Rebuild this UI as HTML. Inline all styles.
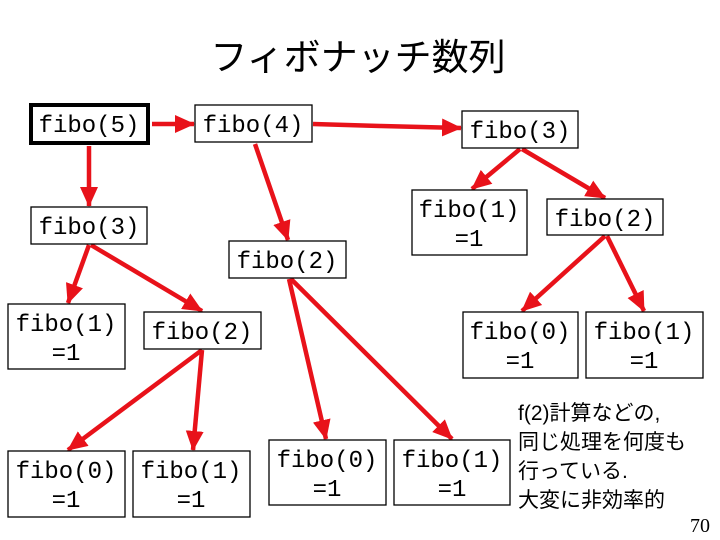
<!DOCTYPE html>
<html><head><meta charset="utf-8"><style>
html,body{margin:0;padding:0;background:#fff;}
svg{display:block;}
.b{fill:#fff;stroke:#000;stroke-width:1.3;}
.t{font-family:"Liberation Mono","Noto Sans CJK JP",monospace;font-size:24px;fill:#000;text-anchor:middle;}
.a{stroke:#e8121a;stroke-width:4.5;fill:none;marker-end:url(#ah);}
.n{font-family:"Liberation Sans","Noto Sans CJK JP",sans-serif;font-size:21px;fill:#000;}
</style></head><body>
<svg width="720" height="540" viewBox="0 0 720 540" xmlns="http://www.w3.org/2000/svg">
<defs><marker id="ah" markerUnits="userSpaceOnUse" markerWidth="22" markerHeight="22" refX="19" refY="10" orient="auto"><path d="M0,1 L20,10 L0,19 Z" fill="#e8121a"/></marker></defs>
<text x="358" y="70" font-family="'Liberation Sans','Noto Sans CJK JP',sans-serif" font-size="37" text-anchor="middle">フィボナッチ数列</text>

<line class="a" x1="152" y1="124" x2="194" y2="124"/>
<polyline class="a" points="313,124 380,126 461,128"/>
<line class="a" x1="89" y1="146" x2="89" y2="206"/>
<line class="a" x1="255" y1="144" x2="288" y2="240"/>
<line class="a" x1="89" y1="245" x2="68" y2="303"/>
<line class="a" x1="91" y1="245" x2="202" y2="311"/>
<line class="a" x1="202" y1="350" x2="68" y2="450"/>
<line class="a" x1="202" y1="350" x2="193" y2="450"/>
<line class="a" x1="289" y1="279" x2="326" y2="439"/>
<line class="a" x1="291" y1="279" x2="452" y2="439"/>
<line class="a" x1="520" y1="149" x2="472" y2="189"/>
<line class="a" x1="522" y1="149" x2="605" y2="198"/>
<line class="a" x1="605" y1="236" x2="522" y2="311"/>
<line class="a" x1="607" y1="236" x2="644" y2="311"/>

<rect x="31" y="105" width="117" height="38" fill="#fff" stroke="#000" stroke-width="4"/>
<text class="t" x="89" y="132">fibo(5)</text>
<rect class="b" x="195" y="105" width="117" height="37"/><text class="t" x="253" y="132">fibo(4)</text>
<rect class="b" x="462" y="111" width="116" height="37"/><text class="t" x="520" y="138">fibo(3)</text>
<rect class="b" x="31" y="207" width="116" height="37"/><text class="t" x="89" y="234">fibo(3)</text>
<rect class="b" x="229" y="241" width="117" height="37"/><text class="t" x="287" y="268">fibo(2)</text>
<rect class="b" x="412" y="190" width="115" height="65"/><text class="t" x="469" y="217">fibo(1)</text><text class="t" x="469" y="246">=1</text>
<rect class="b" x="547" y="199" width="116" height="36"/><text class="t" x="605" y="226">fibo(2)</text>
<rect class="b" x="463" y="312" width="115" height="66"/><text class="t" x="520" y="339">fibo(0)</text><text class="t" x="520" y="368">=1</text>
<rect class="b" x="586" y="312" width="117" height="66"/><text class="t" x="644" y="339">fibo(1)</text><text class="t" x="644" y="368">=1</text>
<rect class="b" x="8" y="304" width="117" height="65"/><text class="t" x="66" y="331">fibo(1)</text><text class="t" x="66" y="360">=1</text>
<rect class="b" x="144" y="312" width="117" height="37"/><text class="t" x="202" y="339">fibo(2)</text>
<rect class="b" x="8" y="451" width="117" height="66"/><text class="t" x="66" y="478">fibo(0)</text><text class="t" x="66" y="507">=1</text>
<rect class="b" x="133" y="451" width="117" height="66"/><text class="t" x="191" y="478">fibo(1)</text><text class="t" x="191" y="507">=1</text>
<rect class="b" x="269" y="440" width="117" height="65"/><text class="t" x="327" y="467">fibo(0)</text><text class="t" x="327" y="496">=1</text>
<rect class="b" x="394" y="440" width="116" height="65"/><text class="t" x="452" y="467">fibo(1)</text><text class="t" x="452" y="496">=1</text>

<text class="n" x="518" y="420">f(2)計算などの,</text>
<text class="n" x="518" y="449">同じ処理を何度も</text>
<text class="n" x="518" y="478">行っている.</text>
<text class="n" x="518" y="507">大変に非効率的</text>
<text x="690" y="532" font-family="'Liberation Serif',serif" font-size="20">70</text>
</svg>
</body></html>
